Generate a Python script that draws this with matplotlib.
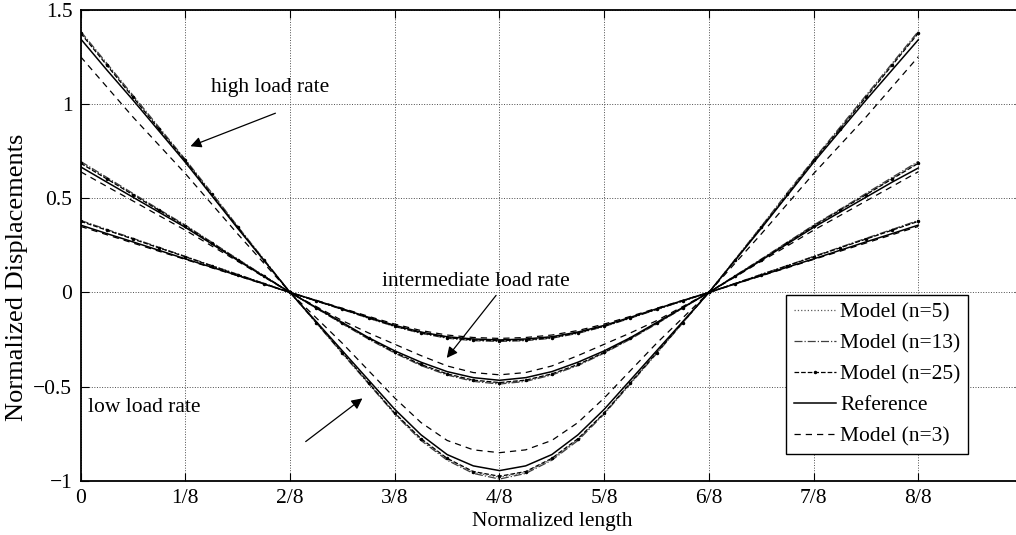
import matplotlib
matplotlib.use("Agg")
import matplotlib.pyplot as plt

plt.rcParams["font.family"] = ["Liberation Serif", "DejaVu Serif"]
plt.rcParams["font.size"] = 15.5

# normalized length positions (every 1/32)
x_pos = [0.0, 0.03125, 0.0625, 0.09375, 0.125, 0.15625, 0.1875, 0.21875,
         0.25, 0.28125, 0.3125, 0.34375, 0.375, 0.40625, 0.4375, 0.46875,
         0.5, 0.53125, 0.5625, 0.59375, 0.625, 0.65625, 0.6875, 0.71875,
         0.75, 0.78125, 0.8125, 0.84375, 0.875, 0.90625, 0.9375, 0.96875, 1.0]

# high load rate (largest amplitude)
ref_high = [1.345, 1.18, 1.02, 0.855, 0.69, 0.515, 0.34, 0.17, 0.0, -0.155,
            -0.31, -0.465, -0.62, -0.755, -0.86, -0.92, -0.945, -0.92, -0.86,
            -0.755, -0.62, -0.465, -0.31, -0.155, 0.0, 0.17, 0.34, 0.515,
            0.69, 0.855, 1.02, 1.18, 1.34]
n3_high = [1.25, 1.09, 0.93, 0.78, 0.63, 0.47, 0.31, 0.155, 0.0, -0.135,
           -0.27, -0.415, -0.56, -0.69, -0.785, -0.835, -0.85, -0.835, -0.785,
           -0.69, -0.56, -0.415, -0.27, -0.135, 0.0, 0.155, 0.31, 0.47, 0.63,
           0.78, 0.93, 1.09, 1.25]
n5_high = [1.38, 1.21, 1.04, 0.87, 0.70, 0.525, 0.35, 0.175, 0.0, -0.16,
           -0.32, -0.48, -0.64, -0.78, -0.885, -0.955, -0.98, -0.955, -0.885,
           -0.78, -0.64, -0.48, -0.32, -0.16, 0.0, 0.175, 0.35, 0.525, 0.70,
           0.87, 1.04, 1.21, 1.38]
n13_high = [1.385, 1.215, 1.045, 0.875, 0.705, 0.53, 0.35, 0.175, 0.0, -0.162,
            -0.325, -0.485, -0.645, -0.785, -0.89, -0.96, -0.99, -0.96, -0.89,
            -0.785, -0.645, -0.485, -0.325, -0.162, 0.0, 0.175, 0.35, 0.53,
            0.705, 0.875, 1.045, 1.215, 1.385]
n25_high = [1.375, 1.205, 1.035, 0.865, 0.70, 0.52, 0.345, 0.17, 0.0, -0.16,
            -0.32, -0.48, -0.64, -0.775, -0.88, -0.95, -0.975, -0.95, -0.88,
            -0.775, -0.64, -0.48, -0.32, -0.16, 0.0, 0.17, 0.345, 0.52, 0.70,
            0.865, 1.035, 1.205, 1.375]

# intermediate load rate
ref_mid = [0.666, 0.585, 0.505, 0.425, 0.345, 0.258, 0.17, 0.085, 0.0, -0.08,
           -0.16, -0.24, -0.31, -0.37, -0.42, -0.452, -0.466, -0.452, -0.42,
           -0.37, -0.31, -0.24, -0.16, -0.08, 0.0, 0.085, 0.17, 0.258, 0.345,
           0.425, 0.505, 0.585, 0.66]
n3_mid = [0.64, 0.562, 0.485, 0.407, 0.33, 0.247, 0.165, 0.082, 0.0, -0.075,
          -0.15, -0.215, -0.275, -0.335, -0.39, -0.425, -0.437, -0.425, -0.39,
          -0.335, -0.275, -0.215, -0.15, -0.075, 0.0, 0.082, 0.165, 0.247,
          0.33, 0.407, 0.485, 0.562, 0.64]
n5_mid = [0.69, 0.605, 0.52, 0.437, 0.355, 0.265, 0.175, 0.088, 0.0, -0.083,
          -0.165, -0.245, -0.32, -0.385, -0.435, -0.468, -0.482, -0.468,
          -0.435, -0.385, -0.32, -0.245, -0.165, -0.083, 0.0, 0.088, 0.175,
          0.265, 0.355, 0.437, 0.52, 0.605, 0.69]
n13_mid = [0.695, 0.61, 0.525, 0.44, 0.357, 0.267, 0.177, 0.089, 0.0, -0.084,
           -0.167, -0.248, -0.322, -0.388, -0.438, -0.472, -0.486, -0.472,
           -0.438, -0.388, -0.322, -0.248, -0.167, -0.084, 0.0, 0.089, 0.177,
           0.267, 0.357, 0.44, 0.525, 0.61, 0.695]
n25_mid = [0.685, 0.602, 0.518, 0.435, 0.352, 0.263, 0.174, 0.087, 0.0, -0.082,
           -0.164, -0.243, -0.318, -0.382, -0.432, -0.465, -0.478, -0.465,
           -0.432, -0.382, -0.318, -0.243, -0.164, -0.082, 0.0, 0.087, 0.174,
           0.263, 0.352, 0.435, 0.518, 0.602, 0.685]

# low load rate (smallest amplitude)
ref_low = [0.357, 0.312, 0.268, 0.223, 0.178, 0.134, 0.09, 0.045, 0.0, -0.043,
           -0.087, -0.132, -0.175, -0.21, -0.235, -0.247, -0.252, -0.247,
           -0.235, -0.21, -0.175, -0.132, -0.087, -0.043, 0.0, 0.045, 0.09,
           0.134, 0.178, 0.223, 0.268, 0.312, 0.357]
n3_low = [0.35, 0.306, 0.262, 0.218, 0.175, 0.131, 0.088, 0.044, 0.0, -0.042,
          -0.084, -0.127, -0.168, -0.202, -0.226, -0.239, -0.244, -0.239,
          -0.226, -0.202, -0.168, -0.127, -0.084, -0.042, 0.0, 0.044, 0.088,
          0.131, 0.175, 0.218, 0.262, 0.306, 0.35]
n5_low = [0.38, 0.332, 0.285, 0.237, 0.19, 0.142, 0.095, 0.047, 0.0, -0.045,
          -0.09, -0.136, -0.18, -0.215, -0.241, -0.254, -0.258, -0.254,
          -0.241, -0.215, -0.18, -0.136, -0.09, -0.045, 0.0, 0.047, 0.095,
          0.142, 0.19, 0.237, 0.285, 0.332, 0.38]
n13_low = [0.382, 0.334, 0.287, 0.239, 0.191, 0.143, 0.096, 0.048, 0.0, -0.046,
           -0.091, -0.137, -0.181, -0.217, -0.243, -0.256, -0.26, -0.256,
           -0.243, -0.217, -0.181, -0.137, -0.091, -0.046, 0.0, 0.048, 0.096,
           0.143, 0.191, 0.239, 0.287, 0.334, 0.382]
n25_low = [0.377, 0.33, 0.283, 0.236, 0.189, 0.141, 0.094, 0.047, 0.0, -0.045,
           -0.089, -0.135, -0.179, -0.214, -0.24, -0.252, -0.256, -0.252,
           -0.24, -0.214, -0.179, -0.135, -0.089, -0.045, 0.0, 0.047, 0.094,
           0.141, 0.189, 0.236, 0.283, 0.33, 0.377]

x_ticks = [0, 0.125, 0.25, 0.375, 0.5, 0.625, 0.75, 0.875, 1.0]
x_labels = ["0", "1/8", "2/8", "3/8", "4/8", "5/8", "6/8", "7/8", "8/8"]
y_ticks = [-1, -0.5, 0, 0.5, 1, 1.5]
y_labels = ["\u22121", "\u22120.5", "0", "0.5", "1", "1.5"]

fig = plt.figure(figsize=(10.16, 5.35), dpi=100)
ax = fig.add_axes([0.0794, 0.101, 0.9275, 0.881])

lw = 0.9
series = [
    (n5_high, n5_mid, n5_low, dict(ls=":", color="0.35"), "Model (n=5)"),
    (n13_high, n13_mid, n13_low, dict(ls="-.", color="0.25"), "Model (n=13)"),
    (n25_high, n25_mid, n25_low, dict(ls="--", marker=".", ms=3, color="k"),
     "Model (n=25)"),
    (ref_high, ref_mid, ref_low, dict(ls="-", color="k", lw=1.1), "Reference"),
    (n3_high, n3_mid, n3_low, dict(ls=(0, (5, 4)), color="k"), "Model (n=3)"),
]
for hi, mid, lo, style, label in series:
    kw = dict(lw=lw)
    kw.update(style)
    ax.plot(x_pos, hi, label=label, **kw)
    ax.plot(x_pos, mid, **kw)
    ax.plot(x_pos, lo, **kw)

ax.set_xlim(0, 1.125)
ax.set_ylim(-1, 1.5)
ax.set_xticks(x_ticks)
ax.set_xticklabels(x_labels)
ax.set_yticks(y_ticks)
ax.set_yticklabels(y_labels)
ax.tick_params(direction="in", top=True, right=True, length=6, width=0.8, pad=6)
ax.grid(True, ls=":", color="0.3", lw=0.7)
for sp in ax.spines.values():
    sp.set_linewidth(1.3)

ax.set_xlabel("Normalized length", labelpad=3)
# y label sits a little below the axes centre in the original
fig.text(17 / 1016, 1 - 277 / 535, "Normalized Displacements", rotation=90,
         ha="center", va="center", fontsize=19)

arrow = dict(arrowstyle="-|>", color="k", lw=0.9, mutation_scale=16)
ax.annotate("", xy=(0.128, 0.77), xytext=(0.2356, 0.956), arrowprops=arrow)
ax.text(0.226, 1.089, "high load rate", ha="center", va="center")
ax.annotate("", xy=(0.435, -0.359), xytext=(0.498, -0.004), arrowprops=arrow)
ax.text(0.472, 0.056, "intermediate load rate", ha="center", va="center")
ax.annotate("", xy=(0.339, -0.553), xytext=(0.266, -0.80), arrowprops=arrow)
ax.text(0.0756, -0.61, "low load rate", ha="center", va="center")

leg = ax.legend(loc="lower right", bbox_to_anchor=(0.942, 0.057),
                fancybox=False, framealpha=1, edgecolor="k",
                handlelength=1.95, handletextpad=0.19, labelspacing=0.5,
                borderpad=0.37, borderaxespad=0)
leg.get_frame().set_linewidth(1.0)

fig.savefig("out.png", dpi=100)
